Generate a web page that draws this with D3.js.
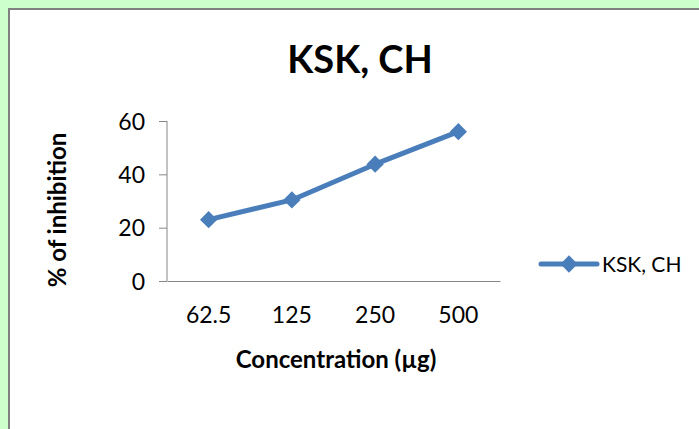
<!DOCTYPE html>
<html>
<head>
<meta charset="utf-8" />
<title>KSK, CH</title>
<style>
    body { margin: 0; background: #ccffcc; }
    svg { display: block; }
    text { font-family: Lato, "Open Sans", sans-serif; fill: #000; }
</style>
</head>
<body>
    <div id="container"></div>
<script src="https://cdn.jsdelivr.net/npm/d3@7"></script>
<script>
    const categories = ['62.5', '125', '250', '500']
    const inhibition = [23, 30.4, 43.8, 56]
    const yTicks = [0, 20, 40, 60]
    const seriesName = 'KSK, CH'

    const W = 699, H = 429
    const plot = { left: 167, right: 500, top: 121, bottom: 281 }

    let svg = d3.select('#container').append('svg').attr('width', W).attr('height', H)

    // white chart area with grey edge on top/left
    svg.append('rect').attr('x', 8).attr('y', 8).attr('width', W).attr('height', H).attr('fill', '#808080')
    svg.append('rect').attr('x', 10).attr('y', 10).attr('width', W).attr('height', H).attr('fill', '#fff')

    let xScale = d3.scaleBand().domain(categories).range([plot.left, plot.right])
    let yScale = d3.scaleLinear().domain([0, 60]).range([plot.bottom, plot.top])

    // y axis
    let yAxis = d3.axisLeft(yScale).tickValues(yTicks).tickSize(8).tickPadding(14)
    let gy = svg.append('g').attr('transform', `translate(${plot.left},0)`).call(yAxis)
    gy.select('.domain').attr('stroke', '#868686').attr('d', `M0,${plot.top}V${plot.bottom}`)
    gy.selectAll('.tick line').attr('stroke', '#868686')
    gy.selectAll('.tick text').style('font-size', '23px').attr('dy', '0.36em')

    // x axis
    let xAxis = d3.axisBottom(xScale).tickSize(0).tickPadding(26)
    let gx = svg.append('g').attr('transform', `translate(0,${plot.bottom})`).call(xAxis)
    gx.select('.domain').attr('stroke', '#868686')
    gx.selectAll('.tick text').style('font-size', '23px')

    const cx = d => xScale(d) + xScale.bandwidth() / 2
    const color = '#4a7ebb'

    let line = d3.line().x((d, i) => cx(categories[i])).y(d => yScale(d))
    svg.append('path').datum(inhibition).attr('d', line)
        .attr('fill', 'none').attr('stroke', color).attr('stroke-width', 5).attr('stroke-linejoin', 'round')

    const diamond = d3.symbol().type(d3.symbolDiamond2).size(190)
    svg.selectAll('.pt').data(inhibition).enter().append('path')
        .attr('class', 'pt')
        .attr('transform', (d, i) => `translate(${cx(categories[i])},${yScale(d)})`)
        .attr('d', diamond).attr('fill', color)

    // titles
    svg.append('text').attr('x', 360).attr('y', 73).attr('text-anchor', 'middle')
        .style('font-size', '38px').style('font-weight', 'bold').text(seriesName)
    svg.append('text').attr('x', 336).attr('y', 368).attr('text-anchor', 'middle')
        .style('font-size', '24px').style('font-weight', 'bold').text('Concentration (µg)')
    svg.append('text').attr('transform', 'translate(66,210) rotate(-90)').attr('text-anchor', 'middle')
        .style('font-size', '24px').style('font-weight', 'bold').text('% of inhibition')

    // legend
    let lg = svg.append('g').attr('transform', 'translate(541,264)')
    lg.append('line').attr('x1', 0).attr('x2', 56).attr('stroke', color).attr('stroke-width', 5).attr('stroke-linecap', 'round')
    lg.append('path').attr('transform', 'translate(28,0)').attr('d', diamond).attr('fill', color)
    lg.append('text').attr('x', 61).attr('y', 0).attr('dy', '0.36em').style('font-size', '21px').text(seriesName)
</script>
</body>
</html>
